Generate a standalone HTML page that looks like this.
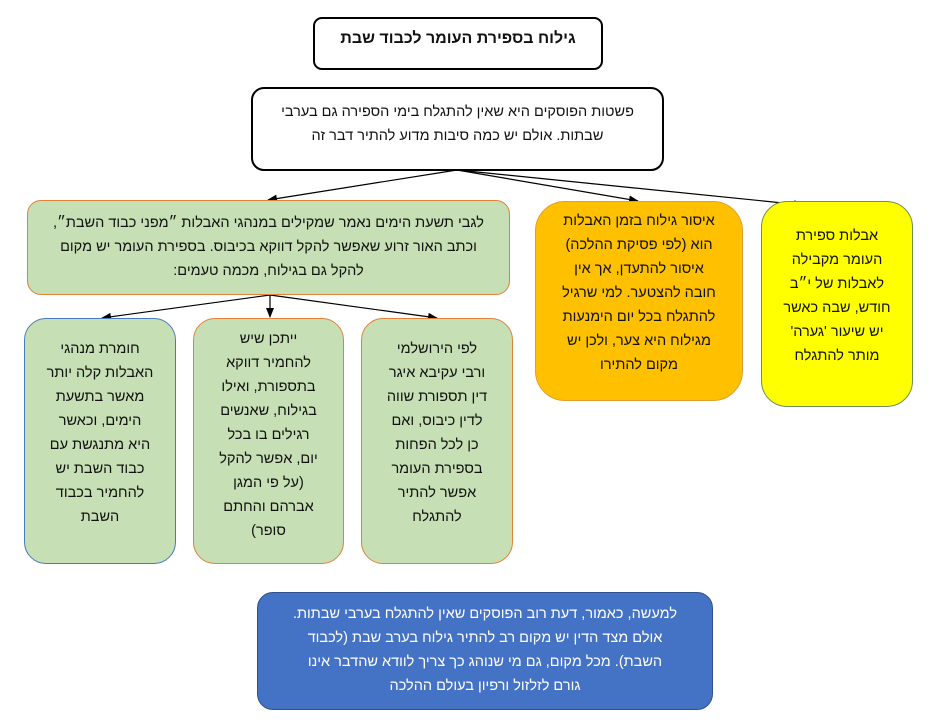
<!DOCTYPE html>
<html><head><meta charset="utf-8"><style>
body{margin:0;width:933px;height:722px;background:#fff;position:relative;overflow:hidden;font-family:"Liberation Sans","Noto Sans CJK SC",sans-serif;}
.b{position:absolute;box-sizing:border-box;direction:rtl;text-align:center;font-size:14.5px;line-height:24px;color:#111;}
svg{position:absolute;left:0;top:0}
</style></head><body>
<svg width="933" height="722">
<defs><marker id="a" markerWidth="10" markerHeight="8" refX="9" refY="4" orient="auto" markerUnits="userSpaceOnUse"><path d="M0,0 L10,4 L0,8 Z" fill="#000"/></marker></defs>
<g stroke="#000" stroke-width="1.2" fill="none" marker-end="url(#a)">
<line x1="457" y1="170" x2="268" y2="200"/>
<line x1="457" y1="170" x2="638" y2="201"/>
<line x1="457" y1="170" x2="803" y2="205"/>
<line x1="270" y1="295" x2="102" y2="318"/>
<line x1="270" y1="295" x2="270" y2="317"/>
<line x1="270" y1="295" x2="437" y2="318"/>
</g>
</svg>
<div class="b" style="left:313px;top:17px;width:290px;height:53px;border:2px solid #000;border-radius:9px;font-weight:bold;font-size:16px;padding-top:8px">גילוח בספירת העומר לכבוד שבת</div>
<div class="b" style="left:251px;top:87px;width:413px;height:84px;border:2px solid #000;border-radius:13px;padding-top:11px">פשטות הפוסקים היא שאין להתגלח בימי הספירה גם בערבי<br>שבתות. אולם יש כמה סיבות מדוע להתיר דבר זה</div>
<div class="b" style="left:27px;top:200px;width:483px;height:95px;border:1.5px solid #e0823a;background:#c6dfb4;border-radius:14px;padding-top:10px">לגבי תשעת הימים נאמר שמקילים במנהגי האבלות ״מפני כבוד השבת״,<br>וכתב האור זרוע שאפשר להקל דווקא בכיבוס. בספירת העומר יש מקום<br>להקל גם בגילוח, מכמה טעמים:</div>
<div class="b" style="left:535px;top:201px;width:208px;height:200px;border:1.5px solid #e0a030;background:#ffc000;border-radius:30px;padding-top:7px">איסור גילוח בזמן האבלות<br>הוא (לפי פסיקת ההלכה)<br>איסור להתעדן, אך אין<br>חובה להצטער. למי שרגיל<br>להתגלח בכל יום הימנעות<br>מגילוח היא צער, ולכן יש<br>מקום להתירו</div>
<div class="b" style="left:761px;top:201px;width:152px;height:206px;border:1.5px solid #6f8f5a;background:#ffff00;border-radius:26px;padding-top:22px">אבלות ספירת<br>העומר מקבילה<br>לאבלות של י״ב<br>חודש, שבה כאשר<br>יש שיעור 'גערה'<br>מותר להתגלח</div>
<div class="b" style="left:24px;top:318px;width:152px;height:246px;border:1.5px solid #4a7ab5;background:#c6dfb4;border-radius:22px;padding-top:18px">חומרת מנהגי<br>האבלות קלה יותר<br>מאשר בתשעת<br>הימים, וכאשר<br>היא מתנגשת עם<br>כבוד השבת יש<br>להחמיר בכבוד<br>השבת</div>
<div class="b" style="left:193px;top:318px;width:151px;height:246px;border:1.5px solid #e0823a;background:#c6dfb4;border-radius:22px;padding-top:8px">ייתכן שיש<br>להחמיר דווקא<br>בתספורת, ואילו<br>בגילוח, שאנשים<br>רגילים בו בכל<br>יום, אפשר להקל<br>(על פי המגן<br>אברהם והחתם<br>סופר)</div>
<div class="b" style="left:361px;top:318px;width:152px;height:246px;border:1.5px solid #e0823a;background:#c6dfb4;border-radius:22px;padding-top:18px">לפי הירושלמי<br>ורבי עקיבא איגר<br>דין תספורת שווה<br>לדין כיבוס, ואם<br>כן לכל הפחות<br>בספירת העומר<br>אפשר להתיר<br>להתגלח</div>
<div class="b" style="left:257px;top:592px;width:456px;height:118px;border:1.5px solid #2f528f;background:#4472c4;border-radius:16px;color:#fff;padding-top:9px">למעשה, כאמור, דעת רוב הפוסקים שאין להתגלח בערבי שבתות.<br>אולם מצד הדין יש מקום רב להתיר גילוח בערב שבת (לכבוד<br>השבת). מכל מקום, גם מי שנוהג כך צריך לוודא שהדבר אינו<br>גורם לזלזול ורפיון בעולם ההלכה</div>
</body></html>
